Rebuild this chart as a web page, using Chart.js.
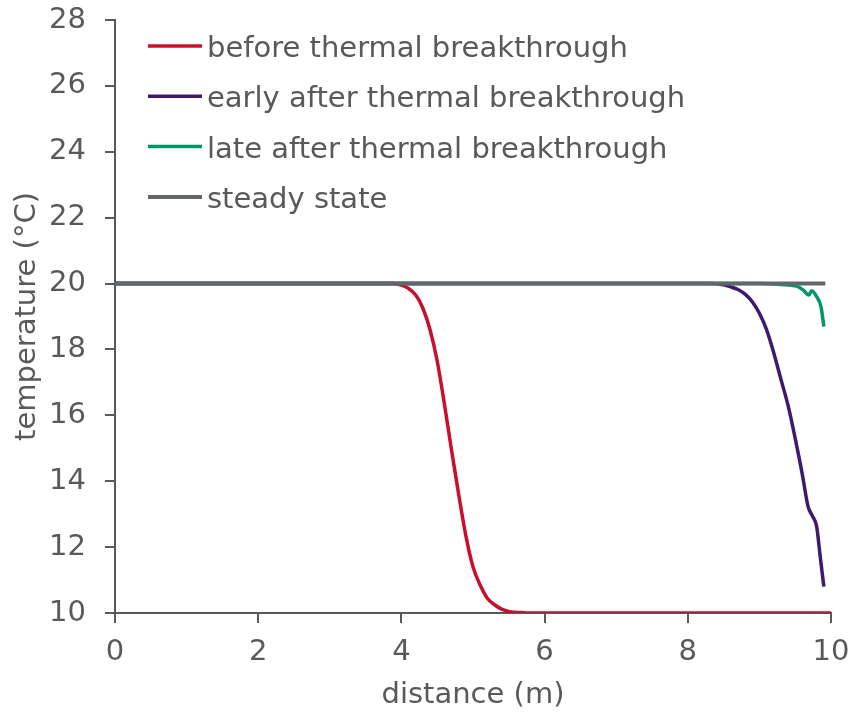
<!DOCTYPE html>
<html>
<head>
<meta charset="utf-8">
<script src="https://cdn.jsdelivr.net/npm/chart.js@4"></script>
<style>
  html, body { margin: 0; padding: 0; background: #fff; }
  #wrap { width: 852px; height: 713px; }
</style>
</head>
<body>
<div id="wrap"><canvas id="tempChart" width="852" height="713"></canvas></div>
<script>
// Values
const beforeX = [0, 3.9, 4.0, 4.1, 4.2, 4.3, 4.4, 4.5, 4.6, 4.7, 4.8, 4.9, 5.0, 5.1, 5.2, 5.3, 5.4, 5.5, 5.7, 6.0, 10];
const beforeY = [20, 20, 19.95, 19.85, 19.65, 19.25, 18.6, 17.65, 16.35, 14.95, 13.6, 12.35, 11.4, 10.85, 10.45, 10.25, 10.12, 10.05, 10.01, 10, 10];

const earlyX = [0, 8.3, 8.5, 8.6, 8.7, 8.8, 8.9, 9.0, 9.1, 9.2, 9.3, 9.4, 9.5, 9.6, 9.68, 9.74, 9.80, 9.85, 9.90];
const earlyY = [20, 20, 19.96, 19.9, 19.82, 19.68, 19.45, 19.1, 18.6, 17.9, 17.1, 16.3, 15.3, 14.2, 13.23, 12.95, 12.62, 11.7, 10.8];

const lateX = [0, 9.0, 9.3, 9.52, 9.61, 9.69, 9.73, 9.80, 9.86, 9.90];
const lateY = [20, 20, 19.97, 19.92, 19.81, 19.65, 19.78, 19.6, 19.3, 18.7];

const steadyX = [0, 9.92];
const steadyY = [20, 20];

const xTicks = [0, 2, 4, 6, 8, 10];
const yTicks = [10, 12, 14, 16, 18, 20, 22, 24, 26, 28];

const seriesNames = ['before thermal breakthrough', 'early after thermal breakthrough',
  'late after thermal breakthrough', 'steady state'];

const pts = (xs, ys) => xs.map((x, i) => ({ x: x, y: ys[i] }));

const axisColor = '#595959';
const font = { family: 'DejaVu Sans', size: 29 };

function line(label, data, color, width, order) {
  return {
    label: label,
    data: data,
    borderColor: color,
    backgroundColor: color,
    borderWidth: width,
    pointRadius: 0,
    cubicInterpolationMode: 'monotone',
    order: order,
  };
}

// legend drawn inside the plot, top-left
const insideLegend = {
  id: 'insideLegend',
  afterDraw(chart) {
    const c = chart.ctx;
    const area = chart.chartArea;
    c.save();
    c.font = font.size + 'px ' + font.family;
    c.fillStyle = axisColor;
    c.textBaseline = 'alphabetic';
    chart.data.datasets.forEach((ds, i) => {
      const y = area.top + 26 + i * 50.3;
      c.strokeStyle = ds.borderColor;
      c.lineWidth = ds.borderWidth;
      c.beginPath();
      c.moveTo(area.left + 33, y);
      c.lineTo(area.left + 87, y);
      c.stroke();
      c.fillText(ds.label, area.left + 92, y + 11);
    });
    c.restore();
  },
};

const ctx = document.getElementById('tempChart').getContext('2d');

new Chart(ctx, {
  type: 'line',
  data: {
    datasets: [
      line(seriesNames[0], pts(beforeX, beforeY), '#C8102E', 3.5, 4),
      line(seriesNames[1], pts(earlyX, earlyY), '#3D1A6E', 3.5, 3),
      line(seriesNames[2], pts(lateX, lateY), '#00966C', 3.5, 2),
      line(seriesNames[3], pts(steadyX, steadyY), '#636669', 4, 1),
    ],
  },
  plugins: [insideLegend],
  options: {
    responsive: false,
    animation: false,
    layout: { padding: { top: 20, right: 21, left: 0, bottom: 0 } },
    plugins: {
      tooltip: { enabled: false },
      legend: { display: false },
    },
    scales: {
      x: {
        type: 'linear',
        min: 0,
        max: 10,
        afterBuildTicks: (s) => { s.ticks = xTicks.map(v => ({ value: v })); },
        afterFit: (s) => { s.height = 100; s.paddingLeft = 0; s.paddingRight = 0; },
        grid: { drawOnChartArea: false, drawTicks: true, tickLength: 10, color: axisColor, lineWidth: 2 },
        border: { display: true, color: axisColor, width: 2 },
        ticks: { color: axisColor, font: font, padding: 12, maxRotation: 0 },
        title: { display: true, text: 'distance (m)', color: axisColor, font: font, padding: { top: 3, bottom: 0 } },
      },
      y: {
        min: 10,
        max: 28,
        afterBuildTicks: (s) => { s.ticks = yTicks.map(v => ({ value: v })); },
        afterFit: (s) => { s.width = 115; s.paddingTop = 0; s.paddingBottom = 0; },
        grid: { drawOnChartArea: false, drawTicks: true, tickLength: 10, color: axisColor, lineWidth: 2 },
        border: { display: true, color: axisColor, width: 2 },
        ticks: { color: axisColor, font: font, padding: 19 },
        title: { display: true, text: 'temperature (°C)', color: axisColor, font: font, padding: { top: 10, bottom: 0 } },
      },
    },
  },
});
</script>
</body>
</html>
